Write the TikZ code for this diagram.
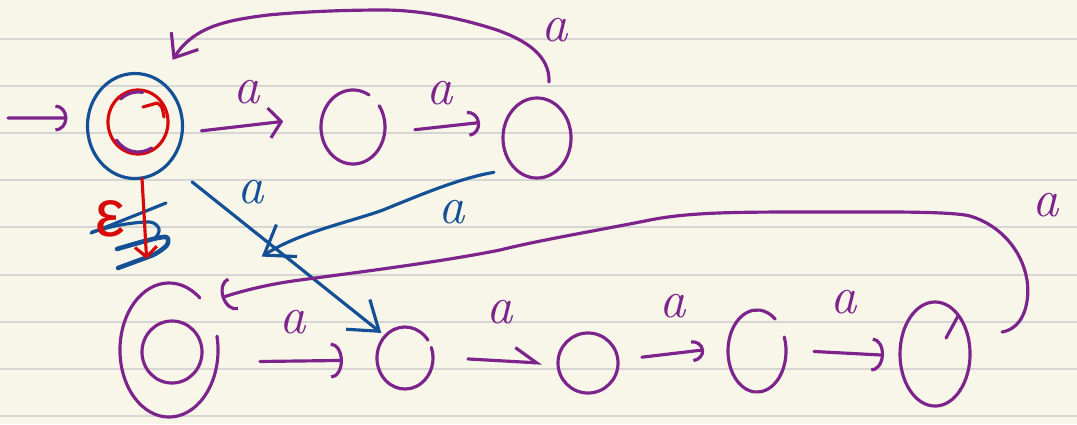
\documentclass[tikz,border=0pt]{standalone}
\usepackage{fontspec}
\newfontfamily\grk{Liberation Sans}
\usetikzlibrary{arrows.meta,shapes.geometric}
\definecolor{pp}{RGB}{125,35,140}
\definecolor{bl}{RGB}{20,80,150}
\definecolor{rd}{RGB}{215,10,10}
\definecolor{paper}{RGB}{248,246,233}
\definecolor{ruling}{RGB}{214,214,212}
\begin{document}
\begin{tikzpicture}[x=0.01cm,y=-0.01cm,
  ink/.style={line width=0.9pt, line cap=round, line join=round},
  pline/.style={ink, draw=pp},
  bline/.style={ink, draw=bl},
  rline/.style={ink, draw=rd},
  state/.style={ellipse, inner sep=0pt, outer sep=0pt, line width=0.9pt},
  lbl/.style={font=\fontsize{15}{15}\selectfont, inner sep=0pt},
  parc/.style={-{Arc Barb[length=1.2mm,width=#1]}},
]
% paper
\fill[paper] (0,0) rectangle (1077,424);
\useasboundingbox (0,0) rectangle (1077,424);
\foreach \yy in {39,86,133,180,227,275,322,369,416}
  \draw[ruling, line width=0.6pt] (0,\yy) -- (1077,\yy);

% states
\node[state, draw=bl, minimum width=0.95cm, minimum height=1.05cm] (q0) at (135,126) {};
\node[state, draw=rd, minimum width=0.60cm, minimum height=0.64cm] (q0in) at (138,122) {};
\node[state, minimum width=0.64cm, minimum height=0.74cm] (q1) at (353,127) {};
\node[state, draw=pp, minimum width=0.68cm, minimum height=0.80cm] (q2) at (537,138) {};
\node[state, minimum width=0.98cm, minimum height=1.34cm] (f) at (169,350) {};
\node[state, draw=pp, minimum width=0.60cm, minimum height=0.62cm] (fin) at (172,352) {};
\node[state, minimum width=0.56cm, minimum height=0.62cm] (b1) at (405,358) {};
\node[state, draw=pp, minimum width=0.60cm, minimum height=0.60cm] (b2) at (588,363) {};
\node[state, minimum width=0.58cm, minimum height=0.82cm] (b3) at (757,351) {};
\node[state, draw=pp, minimum width=0.70cm, minimum height=1.04cm] (b4) at (935,354) {};

% open hand-drawn circles
\draw[pline] ([shift={(60:0.32cm and 0.37cm)}]q1.center) arc[start angle=60, end angle=395, x radius=0.32cm, y radius=0.37cm];
\draw[pline] ([shift={(51:0.49cm and 0.67cm)}]f.center) arc[start angle=51, end angle=372, x radius=0.49cm, y radius=0.67cm];
\draw[pline] ([shift={(35:0.28cm and 0.31cm)}]b1.center) arc[start angle=35, end angle=380, x radius=0.28cm, y radius=0.31cm];
\draw[pline] ([shift={(51:0.29cm and 0.41cm)}]b3.center) arc[start angle=51, end angle=380, x radius=0.29cm, y radius=0.41cm];

% purple traces inside the start state
\draw[pline] ([shift={(80:0.27cm and 0.30cm)}]q0in.center) arc[start angle=80, end angle=130, x radius=0.27cm, y radius=0.30cm];
\draw[pline] ([shift={(217:0.27cm and 0.30cm)}]q0in.center) arc[start angle=217, end angle=300, x radius=0.27cm, y radius=0.30cm];
\draw[rline] (143,107) -- (157,103) .. controls (162,106) .. (164,117);
% small hooks
\draw[pline] (946,338) -- (958,316);

% start arrow
\coordinate (start) at (8,118);
\draw[pline, parc=0.27cm, shorten >=0.2cm] (start) -- ([yshift=0.08cm]q0.west);

% top row
\draw[pline, -{Straight Barb[length=1.2mm,width=3mm]}, shorten <=0.19cm, shorten >=0.38cm]
  ([yshift=-0.07cm]q0.east) -- ([yshift=0.10cm]q1.west);
\node[lbl, text=pp] (la1) at (247,92) {\itshape a};
\draw[pline, parc=0.26cm, shorten <=0.30cm, shorten >=0.23cm]
  ([yshift=-0.06cm]q1.east) -- ([yshift=0.18cm]q2.west);
\node[lbl, text=pp] (la2) at (440,93) {\itshape a};

% loop back over the top
\draw[pline, -{Straight Barb[length=2mm,width=3.2mm]}]
  ([shift={(12,-16)}]q2.north) .. controls (550,55) and (525,40) .. (497,30)
  .. controls (460,18) and (420,10) .. (383,10)
  .. controls (340,10) and (300,12) .. (268,15)
  .. controls (230,20) and (195,25) .. ([shift={(4,-29)}]q0.north east);
\node[lbl, text=pp] (la3) at (555,30) {\itshape a};

% blue diagonal a
\draw[bline, -{Straight Barb[length=2.7mm,width=3.8mm]}, shorten <=0.3cm, shorten >=0.05cm]
  (q0.south east) -- (b1.north west);
\node[lbl, text=bl] (la4) at (251,192) {\itshape a};

% blue curved a
\draw[bline, -{Straight Barb[length=2.7mm,width=3.8mm]}]
  ([shift={(-19,6)}]q2.south west) .. controls (460,178) and (420,195) .. (383,210)
  .. controls (350,222) and (300,232) .. ([shift={(58,-46)}]f.north east);
\node[lbl, text=bl] (la5) at (452,212) {\itshape a};

% crossed-out epsilon
\draw[bline] (166,203) -- (91,233);
\draw[bline] plot[smooth, tension=0.5] coordinates {(92,232) (120,225) (150,222) (159,229) (155,238) (140,243) (117,249)};
\draw[bline, line width=1.3pt] plot[smooth, tension=0.5] coordinates {(117,249) (145,241) (166,237) (167,245) (155,254) (137,261) (118,268)};
\draw[rline, -{Straight Barb[length=1mm,width=2.2mm]}, shorten >=0.24cm]
  ([xshift=0.07cm]q0.south) -- ([xshift=-0.21cm]f.north);
\node[lbl, text=rd, font=\fontsize{19}{19}\selectfont\grk] (leps) at (110,219) {ε};

% bottom row
\draw[pline, parc=0.36cm, shorten <=0.42cm, shorten >=0.34cm]
  ([yshift=-0.12cm]f.east) -- ([yshift=-0.02cm]b1.west);
\node[lbl, text=pp] (lb1) at (293,322) {\itshape a};
\draw[pline, -{Straight Barb[left,length=2.2mm,width=2.8mm]}, shorten <=0.35cm, shorten >=0.16cm]
  ([yshift=0.01cm]b1.east) -- ([yshift=-0.01cm]b2.west);
\node[lbl, text=pp] (lb2) at (500,312) {\itshape a};
\draw[pline, parc=0.22cm, shorten <=0.24cm, shorten >=0.24cm]
  ([yshift=0.03cm]b2.east) -- ([yshift=0.04cm]b3.west);
\node[lbl, text=pp] (lb3) at (673,306) {\itshape a};
\draw[pline, parc=0.34cm, shorten <=0.28cm, shorten >=0.16cm]
  ([yshift=0.01cm]b3.east) -- ([yshift=-0.02cm]b4.west);
\node[lbl, text=pp] (lb4) at (844,302) {\itshape a};

% long loop back to the final state
\draw[pline, parc=0.34cm]
  ([shift={(32,-22)}]b4.east) .. controls (1025,328) and (1030,300) .. (1027,280)
  .. controls (1022,250) and (1000,225) .. (970,216)
  .. controls (950,211) and (880,212) .. (810,212)
  .. controls (740,212) and (690,212) .. (650,220)
  .. controls (600,230) and (540,240) .. (500,250)
  .. controls (440,262) and (360,272) .. (300,280)
  .. controls (270,284) and (245,290) .. ([shift={(18,-5)}]f.north east);
\node[lbl, text=pp] (lb5) at (1046,205) {\itshape a};
\end{tikzpicture}
\end{document}
